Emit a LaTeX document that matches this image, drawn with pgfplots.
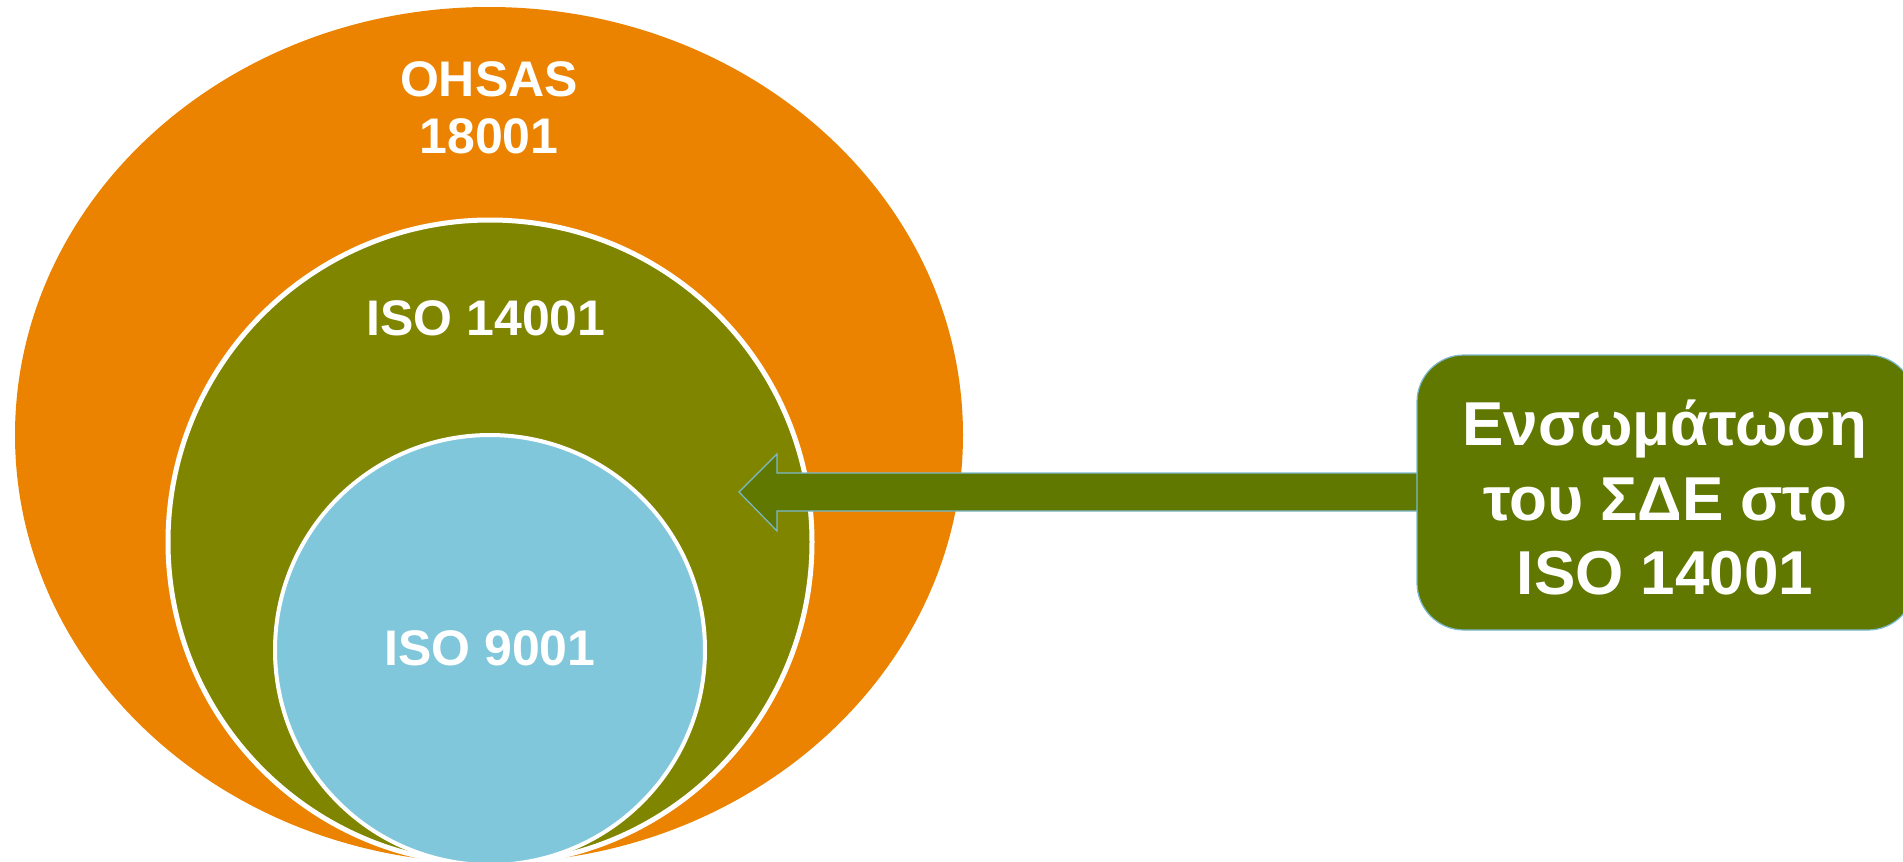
\documentclass[border=0pt]{standalone}
\usepackage{pgfplots}
\pgfplotsset{compat=1.18}
\usepackage{fontspec}
\setmainfont{Liberation Sans}
\definecolor{orangeC}{RGB}{235,131,0}
\definecolor{oliveC}{RGB}{128,133,0}
\definecolor{blueC}{RGB}{128,199,220}
\definecolor{darkgreenC}{RGB}{96,120,0}
\definecolor{edgeC}{RGB}{125,185,205}
\begin{document}
\begin{tikzpicture}
\begin{axis}[
  width=951.5pt, height=431pt, scale only axis,
  xmin=0, xmax=1903, ymin=0, ymax=862, y dir=reverse,
  hide axis, clip=true,
]
% OHSAS 18001 ellipse
\fill[orangeC] (axis cs:489,435) ellipse [x radius=474, y radius=428];
% ISO 14001 circle
\filldraw[fill=oliveC, draw=white, line width=2.5pt] (axis cs:490,542) ellipse [x radius=322, y radius=322];
% ISO 9001 circle
\filldraw[fill=blueC, draw=white, line width=2pt] (axis cs:490,650) ellipse [x radius=215, y radius=215];
% arrow
\addplot[fill=darkgreenC, draw=edgeC, line width=0.6pt] coordinates {
 (1420,473) (777,473) (777,454) (739,492) (777,531) (777,511) (1420,511)} -- cycle;
% box
\filldraw[fill=darkgreenC, draw=edgeC, line width=0.6pt, rounded corners=23.5pt]
  (axis cs:1417,355) rectangle (axis cs:1915,630);
% texts
\node[anchor=base, text=white, font=\fontsize{25}{28}\selectfont\bfseries] at (axis cs:489,97) {OHSAS};
\node[anchor=base, text=white, font=\fontsize{25}{28}\selectfont\bfseries] at (axis cs:489,153) {18001};
\node[anchor=base, text=white, font=\fontsize{25}{28}\selectfont\bfseries] at (axis cs:486,335) {ISO 14001};
\node[anchor=base, text=white, font=\fontsize{25}{28}\selectfont\bfseries] at (axis cs:490,665) {ISO 9001};
\node[anchor=base, text=white, font=\fontsize{31}{37}\selectfont\bfseries] at (axis cs:1665,445) {Ενσωμάτωση};
\node[anchor=base, text=white, font=\fontsize{31}{37}\selectfont\bfseries] at (axis cs:1665,520) {του ΣΔΕ στο};
\node[anchor=base, text=white, font=\fontsize{31}{37}\selectfont\bfseries] at (axis cs:1665,594) {ISO 14001};
\end{axis}
\pgfresetboundingbox
\useasboundingbox (current axis.south west) rectangle (current axis.north east);
\end{tikzpicture}
\end{document}
